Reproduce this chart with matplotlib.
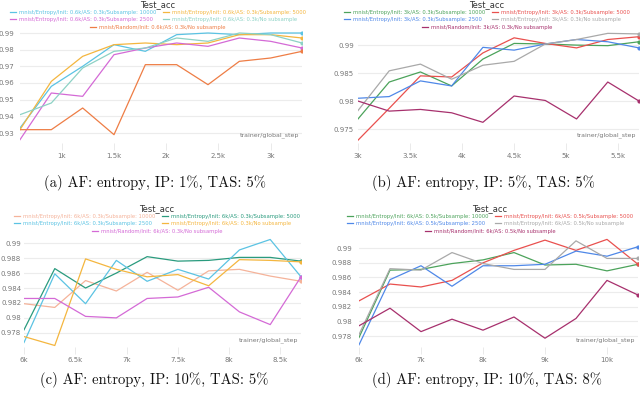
import matplotlib
matplotlib.use("Agg")
import matplotlib.pyplot as plt
from matplotlib.ticker import MultipleLocator, FuncFormatter

# ---- data -------------------------------------------------------------
steps_a = [600, 900, 1200, 1500, 1800, 2100, 2400, 2700, 3000, 3300]
a_ent_10000 = [0.933, 0.958, 0.970, 0.983, 0.979, 0.989, 0.990, 0.989, 0.990, 0.990]
a_ent_5000 = [0.932, 0.961, 0.976, 0.983, 0.984, 0.983, 0.984, 0.989, 0.989, 0.987]
a_ent_2500 = [0.926, 0.954, 0.952, 0.977, 0.981, 0.984, 0.982, 0.987, 0.985, 0.981]
a_ent_nosub = [0.941, 0.948, 0.969, 0.979, 0.981, 0.987, 0.985, 0.990, 0.989, 0.984]
a_random = [0.932, 0.932, 0.945, 0.929, 0.971, 0.971, 0.959, 0.973, 0.975, 0.979]

steps_b = [3000, 3300, 3600, 3900, 4200, 4500, 4800, 5100, 5400, 5700]
b_ent_10000 = [0.9768, 0.9834, 0.9852, 0.9827, 0.9875, 0.9903, 0.9902, 0.9900, 0.9899, 0.9906]
b_ent_5000 = [0.9730, 0.9787, 0.9845, 0.9843, 0.9886, 0.9913, 0.9903, 0.9895, 0.9910, 0.9915]
b_ent_2500 = [0.9805, 0.9808, 0.9836, 0.9827, 0.9896, 0.9891, 0.9902, 0.9910, 0.9906, 0.9895]
b_ent_nosub = [0.9783, 0.9854, 0.9866, 0.9839, 0.9864, 0.9871, 0.9902, 0.9910, 0.9921, 0.9920]
b_random = [0.9800, 0.9782, 0.9785, 0.9779, 0.9762, 0.9809, 0.9801, 0.9768, 0.9834, 0.9800]

steps_c = [6000, 6300, 6600, 6900, 7200, 7500, 7800, 8100, 8400, 8700]
c_ent_10000 = [0.9819, 0.9814, 0.9850, 0.9836, 0.9861, 0.9837, 0.9863, 0.9865, 0.9856, 0.9849]
c_ent_5000 = [0.9784, 0.9866, 0.9840, 0.9860, 0.9882, 0.9876, 0.9877, 0.9881, 0.9881, 0.9876]
c_ent_2500 = [0.9767, 0.9859, 0.9819, 0.9877, 0.9849, 0.9865, 0.9852, 0.9891, 0.9905, 0.9855]
c_ent_nosub = [0.9775, 0.9763, 0.9879, 0.9865, 0.9855, 0.9858, 0.9843, 0.9878, 0.9877, 0.9875]
c_random = [0.9826, 0.9826, 0.9802, 0.9800, 0.9826, 0.9828, 0.9841, 0.9808, 0.9791, 0.9855]

steps_d = [6000, 6500, 7000, 7500, 8000, 8500, 9000, 9500, 10000, 10500]
d_ent_10000 = [0.9778, 0.9870, 0.9871, 0.9879, 0.9884, 0.9894, 0.9877, 0.9878, 0.9869, 0.9878]
d_ent_5000 = [0.9828, 0.9851, 0.9847, 0.9856, 0.9880, 0.9897, 0.9911, 0.9897, 0.9912, 0.9878]
d_ent_2500 = [0.9768, 0.9857, 0.9876, 0.9848, 0.9876, 0.9876, 0.9878, 0.9896, 0.9889, 0.9902]
d_ent_nosub = [0.9782, 0.9872, 0.9870, 0.9894, 0.9879, 0.9871, 0.9871, 0.9910, 0.9886, 0.9886]
d_random = [0.9794, 0.9818, 0.9786, 0.9803, 0.9788, 0.9806, 0.9777, 0.9804, 0.9856, 0.9836]

captions = ["(a) AF: entropy, IP: 1%, TAS: 5%", "(b) AF: entropy, IP: 5%, TAS: 5%",
            "(c) AF: entropy, IP: 10%, TAS: 5%", "(d) AF: entropy, IP: 10%, TAS: 8%"]

# ---- styling ----------------------------------------------------------
W, H = 640, 397
fig = plt.figure(figsize=(6.4, 3.97), dpi=100)
plt.rcParams['font.family'] = ['DejaVu Sans']


def px_rect(l, t, r, b):
    return [l / W, 1 - b / H, (r - l) / W, (b - t) / H]


def kfmt(x, pos):
    return f"{x / 1000:g}k"


def yfmt(y, pos):
    return f"{round(y, 4):g}"


def panel(rect, steps, series, labels, colors, ylim, ystep, xstep, ypad,
          legend_cx, title_y, caption, cap_y):
    ax = fig.add_axes(px_rect(*rect))
    lines = []
    for vals, lab, col in zip(series, labels, colors):
        ln, = ax.plot(steps, vals, color=col, lw=0.9, label=lab,
                      marker='o', markersize=2, markevery=[len(vals) - 1])
        lines.append(ln)
    ax.set_xlim(steps[0], steps[-1])
    ax.set_ylim(*ylim)
    ax.yaxis.set_major_locator(MultipleLocator(ystep))
    ax.yaxis.set_major_formatter(FuncFormatter(yfmt))
    ax.xaxis.set_major_locator(MultipleLocator(xstep))
    ax.xaxis.set_major_formatter(FuncFormatter(kfmt))
    for s in ax.spines.values():
        s.set_visible(False)
    ax.grid(axis='y', color='#ececec', lw=0.8)
    ax.set_axisbelow(True)
    ax.tick_params(axis='y', length=0, labelsize=5, labelcolor='#777777', pad=ypad)
    ax.tick_params(axis='x', length=5, width=0.6, color='#e6e6e6', direction='out',
                   labelsize=5, labelcolor='#777777', pad=2)
    ax.text(0.99, 0.04, "trainer/global_step", transform=ax.transAxes,
            ha='right', va='bottom', fontsize=4.5, color='#777777')

    cx = legend_cx / W
    fig.text(cx, 1 - title_y / H, "Test_acc", ha='center', va='center',
             fontsize=6, color='#333333')
    order = [0, 2, 1, 3]
    leg1 = fig.legend([lines[i] for i in order], [labels[i] for i in order],
                      ncol=2, loc='center', bbox_to_anchor=(cx, 1 - (title_y + 11) / H),
                      fontsize=3.8, frameon=False, handlelength=1.1, handletextpad=0.6,
                      columnspacing=1.2, labelspacing=0.5, borderpad=0,
                      labelcolor='linecolor')
    for h in leg1.legend_handles:
        h.set_marker('')
    leg2 = fig.legend([lines[4]], [labels[4]], loc='center',
                      bbox_to_anchor=(cx, 1 - (title_y + 22) / H),
                      fontsize=3.8, frameon=False, handlelength=1.1, handletextpad=0.6,
                      borderpad=0, labelcolor='linecolor')
    for h in leg2.legend_handles:
        h.set_marker('')
    fig.text(cx - 0.005, 1 - cap_y / H, caption, ha='center', va='center',
             fontsize=10.5, family=['cmr10', 'DejaVu Serif'], color='#111111')
    return ax


def names(init, asz):
    return [f"mnist/Entropy/Init: {init}/AS: {asz}/Subsample: 10000",
            f"mnist/Entropy/Init: {init}/AS: {asz}/Subsample: 5000",
            f"mnist/Entropy/Init: {init}/AS: {asz}/Subsample: 2500",
            f"mnist/Entropy/Init: {init}/AS: {asz}/No subsample",
            f"mnist/Random/Init: {init}/AS: {asz}/No subsample"]


cols_a = ['#5bc3e3', '#f4b63f', '#d46ad6', '#8dd2c5', '#ee7d45']
cols_b = ['#4ca35b', '#e9504e', '#4f88e8', '#a9a9a9', '#a7306d']
cols_c = ['#f5b39a', '#2a9b7e', '#5bc3e3', '#f4b63f', '#d46ad6']

panel((20, 30, 302, 143), steps_a,
      [a_ent_10000, a_ent_5000, a_ent_2500, a_ent_nosub, a_random],
      names("0.6k", "0.3k"), cols_a, (0.924, 0.9918), 0.01, 500, 4,
      158, 5, captions[0], 183)
panel((358, 30, 639, 143), steps_b,
      [b_ent_10000, b_ent_5000, b_ent_2500, b_ent_nosub, b_random],
      names("3k", "0.3k"), cols_b, (0.9725, 0.9927), 0.005, 500, 3,
      487, 5, captions[1], 183)
panel((24, 235, 301, 347), steps_c,
      [c_ent_10000, c_ent_5000, c_ent_2500, c_ent_nosub, c_random],
      names("6k", "0.3k"), cols_c, (0.9761, 0.9911), 0.002, 500, 2,
      157, 209, captions[2], 380)
panel((359, 235, 638, 347), steps_d,
      [d_ent_10000, d_ent_5000, d_ent_2500, d_ent_nosub, d_random],
      names("6k", "0.5k"), cols_b, (0.9765, 0.9918), 0.002, 1000, 5,
      490, 209, captions[3], 380)

fig.savefig("out.png", dpi=100)
